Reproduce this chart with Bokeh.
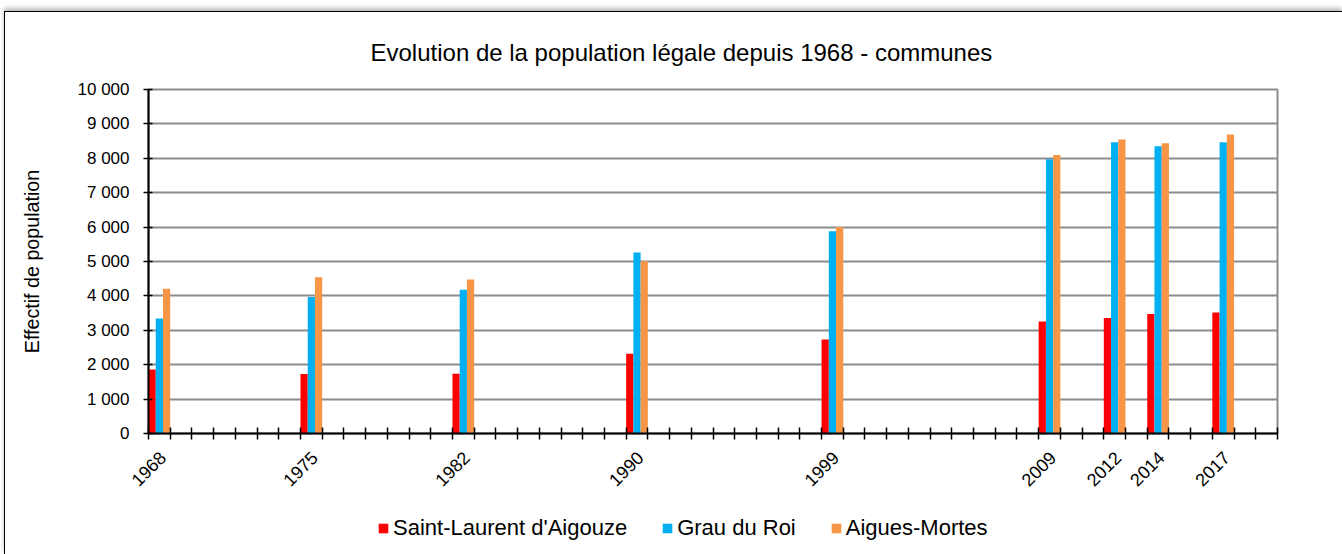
from bokeh.plotting import figure
from bokeh.models import (ColumnDataSource, FixedTicker, CustomJSTickFormatter, Legend,
                          LegendItem, Range1d, LinearAxis, Title)
from bokeh.layouts import column
from bokeh.embed import file_html
from bokeh.resources import INLINE
import math

years = [1968, 1975, 1982, 1990, 1999, 2009, 2012, 2014, 2017]
saint_laurent = [1860, 1730, 1735, 2320, 2735, 3255, 3355, 3475, 3515]
grau_du_roi = [3340, 3970, 4180, 5260, 5880, 7975, 8470, 8350, 8470]
aigues_mortes = [4210, 4545, 4475, 5005, 6000, 8095, 8550, 8435, 8690]
series_names = ["Saint-Laurent d'Aigouze", "Grau du Roi", "Aigues-Mortes"]
colors = ["#FF0000", "#00B0F0", "#F79646"]
y_ticks = [0, 1000, 2000, 3000, 4000, 5000, 6000, 7000, 8000, 9000, 10000]
x_start, x_end = 1968, 2020
label_shift = 0.65  # years: rotated year labels centred under their tick

FONT = "Liberation Sans"
OX, OY = 5, 12            # outer chart frame offset
W = 1342 - OX
H1, H2 = 488, 54

p = figure(width=W, height=H1, output_backend="svg", toolbar_location=None,
           x_range=Range1d(x_start, x_end), y_range=Range1d(0, 10000),
           min_border_left=148 - OX, min_border_right=65, min_border_top=89 - OY,
           min_border_bottom=67)
p.background_fill_color = "white"
p.border_fill_color = "white"
p.outline_line_color = "#8C8C8C"
p.outline_line_width = 2
p.extra_x_ranges = {"lab": Range1d(x_start - label_shift, x_end - label_shift)}

bar_w = 1.0 / 3.0
for i, (vals, col) in enumerate(zip([saint_laurent, grau_du_roi, aigues_mortes], colors)):
    src = ColumnDataSource(dict(x=[y + bar_w * (i + 0.5) for y in years], top=vals))
    p.vbar(x="x", top="top", width=bar_w, bottom=0, source=src,
           fill_color=col, line_color=None)

# main x axis: ticks only
p.xaxis.ticker = FixedTicker(ticks=list(range(x_start, x_end + 1)))
p.xaxis.formatter = CustomJSTickFormatter(code="return '';")
p.xaxis.minor_tick_line_color = None
p.xaxis.major_tick_in = 6
p.xaxis.major_tick_out = 6
p.xaxis.axis_line_width = 2
p.xaxis.major_tick_line_width = 1.5
p.xaxis.axis_line_color = "black"
p.xaxis.major_label_text_font_size = "1px"
p.xaxis.major_label_standoff = 0

# label axis: year labels only, rotated
lab_axis = LinearAxis(x_range_name="lab", ticker=FixedTicker(ticks=years),
                      formatter=CustomJSTickFormatter(code="return String(Math.round(tick));"))
lab_axis.axis_line_color = None
lab_axis.major_tick_line_color = None
lab_axis.minor_tick_line_color = None
lab_axis.major_tick_in = 0
lab_axis.major_tick_out = 0
lab_axis.major_label_orientation = math.pi / 4
lab_axis.major_label_text_font = FONT
lab_axis.major_label_text_font_size = "18px"
lab_axis.major_label_text_color = "black"
lab_axis.major_label_standoff = 15
p.add_layout(lab_axis, "below")

p.yaxis.ticker = FixedTicker(ticks=y_ticks)
p.yaxis.formatter = CustomJSTickFormatter(code="return String(Math.round(tick)).replace(/\\B(?=(\\d{3})+(?!\\d))/g, ' ');")
p.yaxis.minor_tick_line_color = None
p.yaxis.major_tick_in = 4
p.yaxis.major_tick_out = 5
p.yaxis.axis_line_width = 2
p.yaxis.major_tick_line_width = 1.5
p.yaxis.axis_line_color = "black"
p.yaxis.major_label_text_font = FONT
p.yaxis.major_label_text_font_size = "17px"
p.yaxis.major_label_text_color = "black"
p.yaxis.major_label_standoff = 14
p.yaxis.axis_label = "Effectif de population"
p.yaxis.axis_label_text_font = FONT
p.yaxis.axis_label_text_font_size = "19.7px"
p.yaxis.axis_label_text_font_style = "normal"
p.yaxis.axis_label_text_color = "black"
p.yaxis.axis_label_standoff = 32

p.xgrid.grid_line_color = None
p.ygrid.grid_line_color = "#8C8C8C"
p.ygrid.grid_line_width = 2

# title
t = Title(text="Evolution de la population légale depuis 1968 - communes",
          align="left", offset=222, text_font=FONT, text_font_size="24px",
          text_font_style="normal", text_color="black", standoff=48)
p.title = t

# legend figure
lg = figure(width=W, height=H2, output_backend="svg", toolbar_location=None,
            x_range=Range1d(0, 1), y_range=Range1d(0, 1),
            min_border_left=0, min_border_right=0, min_border_top=0, min_border_bottom=0)
lg.axis.visible = False
lg.grid.visible = False
lg.outline_line_color = None
lg.outline_line_alpha = 0
lg.background_fill_color = None
lg.border_fill_color = None
leg_renderers = []
for col in colors:
    leg_renderers.append(lg.vbar(x=[0.5], top=[0.0], bottom=[0.0], width=0.0,
                                 fill_color=col, line_color=None))
legend = Legend(items=[LegendItem(label=n, renderers=[r]) for n, r in zip(series_names, leg_renderers)],
                orientation="horizontal", location=(229, 13),
                glyph_width=12, glyph_height=12, label_standoff=4, spacing=34,
                label_text_font=FONT, label_text_font_size="22px", label_text_color="black",
                border_line_color=None, background_fill_alpha=0, margin=0, padding=4)
lg.add_layout(legend)

layout = column(p, lg, spacing=0,
                styles={"border-left": "1px solid #000000", "border-top": "1px solid #000000",
                        "margin-left": f"{OX - 1}px", "margin-top": f"{OY - 1}px",
                        "box-shadow": "0px -3px 4px #bbbbbb", "background-color": "white"})
open("out.html", "w").write(file_html(layout, INLINE))
